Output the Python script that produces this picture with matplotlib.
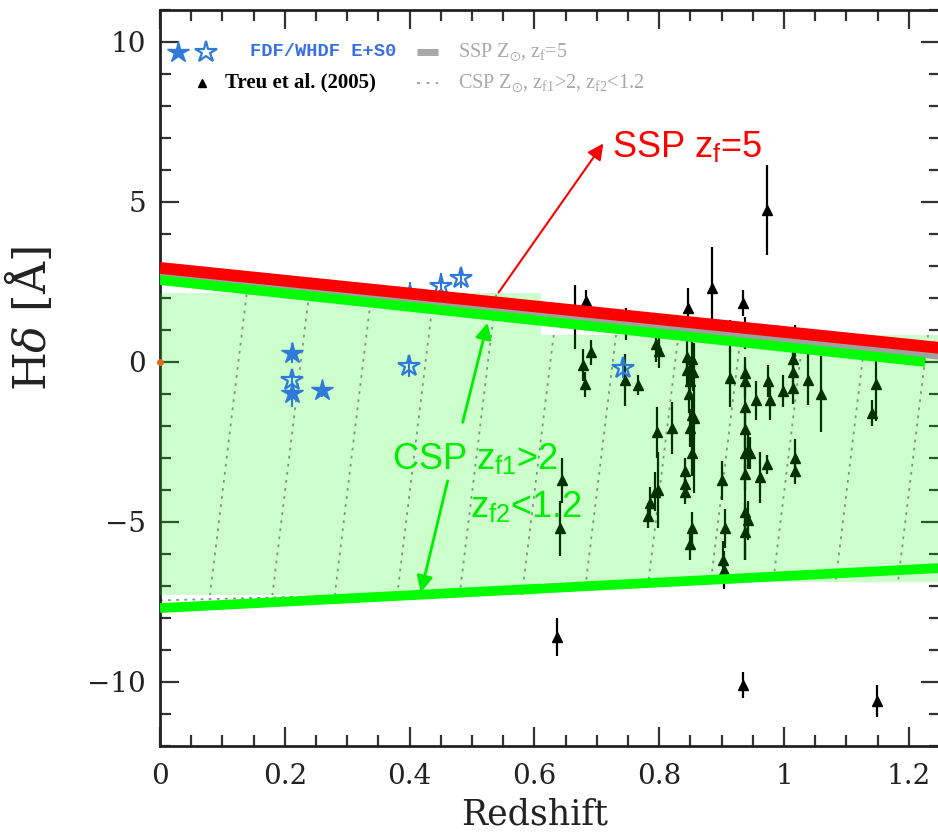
import matplotlib
matplotlib.use('Agg')
import matplotlib.pyplot as plt
from matplotlib.patches import Rectangle
from matplotlib.ticker import MultipleLocator, FuncFormatter

plt.rcParams['font.family'] = 'DejaVu Serif'
plt.rcParams['mathtext.fontset'] = 'dejavuserif'

# FDF/WHDF E+S0 galaxies
fdf_filled_z = [0.212, 0.212, 0.260]
fdf_filled_hd = [0.28, -0.97, -0.88]
fdf_filled_err = [0.30, 0.45, 0.20]
fdf_open_z = [0.212, 0.399, 0.400, 0.450, 0.483, 0.742]
fdf_open_hd = [-0.56, -0.12, 2.05, 2.37, 2.62, -0.20]
fdf_open_err = [0.35, 0.35, 0.45, 0.40, 0.30, 0.30]

# Treu et al. (2005) field early types
treu_z = [0.665, 0.683, 0.678, 0.691, 0.681, 0.644, 0.641, 0.637,
          0.747, 0.745, 0.766, 0.795, 0.800, 0.796, 0.820, 0.782,
          0.785, 0.793, 0.798, 0.846, 0.844, 0.852, 0.844, 0.854,
          0.849, 0.848, 0.852, 0.849, 0.852, 0.841, 0.841, 0.841,
          0.852, 0.849, 0.856, 0.885, 0.913, 0.913, 0.900, 0.905,
          0.902, 0.904, 0.934, 0.938, 0.937, 0.937, 0.937, 0.937,
          0.942, 0.937, 0.946, 0.937, 0.937, 0.942, 0.937, 0.935,
          0.972, 0.955, 0.975, 0.978, 0.962, 0.972, 0.998, 1.017,
          1.015, 1.015, 1.014, 1.039, 1.060, 1.017, 1.017, 1.147,
          1.141, 1.149]
treu_hd = [1.40, 1.90, -0.10, 0.30, -0.70, -3.70, -5.20, -8.60,
           1.20, -0.56, -0.72, 0.55, 0.35, -2.20, -2.06, -4.80,
           -4.40, -4.05, -4.00, 1.70, 0.15, 0.10, -0.25, -0.30,
           -0.60, -1.00, -1.65, -2.06, -2.85, -3.40, -3.80, -4.05,
           -5.20, -5.70, -1.75, 2.30, 0.80, -0.50, -3.70, -5.20,
           -6.20, -6.50, 1.84, 0.90, -0.35, -0.60, -1.40, -2.10,
           -2.75, -2.85, -2.85, -3.50, -4.70, -4.95, -5.30, -10.10,
           4.75, -1.20, -0.60, -1.20, -3.60, -3.20, -0.90, 0.65,
           0.10, -0.30, -0.80, -0.55, -1.00, -3.00, -3.40, -0.70,
           -1.60, -10.60]
treu_err = [1.00, 0.35, 0.50, 0.40, 0.40, 0.70, 0.85, 0.60,
            0.50, 0.80, 0.30, 0.55, 0.55, 0.80, 0.80, 0.40,
            0.50, 0.60, 1.20, 0.60, 0.50, 0.60, 0.50, 0.60,
            0.50, 0.60, 0.60, 0.60, 0.70, 0.40, 0.40, 0.40,
            0.50, 0.50, 2.35, 1.30, 0.50, 0.90, 0.60, 0.60,
            0.60, 0.60, 0.40, 0.50, 0.50, 0.50, 0.60, 0.60,
            0.60, 0.50, 0.50, 0.50, 1.50, 0.60, 0.90, 0.40,
            1.40, 0.60, 0.50, 0.60, 0.80, 0.30, 0.50, 0.50,
            0.60, 0.60, 0.50, 0.80, 1.20, 0.60, 0.40, 1.15,
            0.40, 0.50]

# model lines (end points in redshift / Hdelta)
ssp_red_z, ssp_red_hd = [0.0, 1.25], [2.94, 0.44]
ssp_model_z, ssp_model_hd = [0.0, 1.25], [2.75, 0.18]
csp_top_z, csp_top_hd = [0.0, 1.226], [2.56, 0.0]
csp_bot_z, csp_bot_hd = [0.0, 1.25], [-7.69, -6.44]
csp_floor_z, csp_floor_hd = [0.0, 0.45], [-7.45, -7.22]

# CSP envelope in two redshift bins
band_z_lo = [0.0, 0.61]
band_z_hi = [0.61, 1.25]
band_hd_lo = [-7.28, -6.88]
band_hd_hi = [2.15, 0.84]

# dotted CSP tracks (redshift at the bottom and top of the envelope)
track_hd = [-7.3, 2.15]
track_z_bot = [0.08, 0.18, 0.28, 0.38, 0.48, 0.58, 0.68, 0.78, 0.88, 0.98, 1.08, 1.18]
track_z_top = [0.139, 0.239, 0.339, 0.439, 0.539, 0.639, 0.739, 0.839, 0.939, 1.039, 1.139, 1.239]

origin_z, origin_hd = [0.0], [0.0]

star_blue = '#2f7ad8'
grey = '#a8a8a8'

fig = plt.figure(figsize=(9.38, 8.36), dpi=100)
ax = fig.add_axes([160 / 938, 90 / 836, 780 / 938, 736 / 836])

# envelope + tracks
rects = []
for z0, z1, lo, hi in zip(band_z_lo, band_z_hi, band_hd_lo, band_hd_hi):
    r = Rectangle((z0, lo), z1 - z0, hi - lo, facecolor='#00ff00', alpha=0.2,
                  edgecolor='none', zorder=3)
    ax.add_patch(r)
    rects.append(r)

for zb, zt in zip(track_z_bot, track_z_top):
    for r in rects:
        ln, = ax.plot([zb, zt], track_hd, ls=(0, (1.5, 3)), color='#8a8a8a', lw=1.3, zorder=1)
        ln.set_clip_path(r)

ax.plot(csp_floor_z, csp_floor_hd, ls=(0, (1.5, 3)), color='#8a8a8a', lw=1.3, zorder=1)

# data
ax.errorbar(treu_z, treu_hd, yerr=treu_err, fmt='^', color='black', ms=7,
            elinewidth=1.6, capsize=0, zorder=2)
ax.errorbar(fdf_filled_z, fdf_filled_hd, yerr=fdf_filled_err, fmt='*', color=star_blue,
            ms=16, elinewidth=1.5, capsize=0, zorder=4)
ax.errorbar(fdf_open_z, fdf_open_hd, yerr=fdf_open_err, fmt='*', color=star_blue,
            mfc='none', mew=1.6, ms=16, elinewidth=1.5, capsize=0, zorder=4)
ax.plot(origin_z, origin_hd, 'o', color='#e06a20', ms=4, clip_on=False, zorder=4)

# model lines
ax.plot(ssp_model_z, ssp_model_hd, color='#a0a0a0', lw=5, solid_capstyle='butt', zorder=4.5)
ax.plot(csp_top_z, csp_top_hd, color='#00ff00', lw=7, solid_capstyle='butt', zorder=5)
ax.plot(csp_bot_z, csp_bot_hd, color='#00ff00', lw=7, solid_capstyle='butt', zorder=5)
ax.plot(ssp_red_z, ssp_red_hd, color='#ff0000', lw=8.5, solid_capstyle='butt', zorder=5)

# annotations
ax.annotate('', xy=(0.713, 6.9), xytext=(0.54, 2.1),
            arrowprops=dict(arrowstyle='-|>', color='#ff0000', lw=1.5, mutation_scale=24),
            zorder=6)
ax.text(0.724, 6.4, r'SSP z$_\mathregular{f}$=5', color='#ff0000', fontsize=26,
        family='Liberation Sans', va='baseline', ha='left', zorder=6)
ax.annotate('', xy=(0.526, 1.31), xytext=(0.484, -1.97),
            arrowprops=dict(arrowstyle='-|>', color='#00ee00', lw=2, mutation_scale=24),
            zorder=6)
ax.annotate('', xy=(0.417, -7.28), xytext=(0.462, -3.63),
            arrowprops=dict(arrowstyle='-|>', color='#00ee00', lw=2, mutation_scale=24),
            zorder=6)
ax.text(0.372, -3.375, r'CSP z$_\mathregular{f1}$>2', color='#00ee00', fontsize=26,
        family='Liberation Sans', va='baseline', ha='left', zorder=6)
ax.text(0.497, -4.875, r'z$_\mathregular{f2}$<1.2', color='#00ee00', fontsize=26,
        family='Liberation Sans', va='baseline', ha='left', zorder=6)

# key
tr = ax.transAxes
ax.plot([0.023], [0.943], marker='*', color=star_blue, ms=16, transform=tr, zorder=7)
ax.plot([0.059], [0.943], marker='*', color=star_blue, mfc='none', mew=1.6, ms=16,
        transform=tr, zorder=7)
ax.text(0.115, 0.943, 'FDF/WHDF E+S0', color='#3a70e6', fontsize=13.5,
        family='Liberation Mono', weight='bold', va='center', transform=tr)
ax.plot([0.054], [0.901], marker='^', color='black', ms=6, transform=tr)
ax.text(0.083, 0.901, 'Treu et al. (2005)', color='black', fontsize=15,
        family='Liberation Serif', weight='bold', va='center', transform=tr)
ax.plot([0.329, 0.357], [0.943, 0.943], color=grey, lw=5, solid_capstyle='butt', transform=tr)
ax.text(0.382, 0.943, r'SSP Z$_\mathregular{\odot}$, z$_\mathregular{f}$=5', color=grey,
        fontsize=14.5, family='Liberation Serif', va='center', transform=tr)
ax.plot([0.329, 0.357], [0.901, 0.901], color=grey, lw=1.5, ls=(0, (1.5, 3)), transform=tr)
ax.text(0.382, 0.901,
        r'CSP Z$_\mathregular{\odot}$, z$_\mathregular{f1}$>2, z$_\mathregular{f2}$<1.2',
        color=grey, fontsize=14.5, family='Liberation Serif', va='center', transform=tr)

# axes
ax.set_xlim(0, 1.25)
ax.set_ylim(-12, 11)
ax.xaxis.set_major_locator(MultipleLocator(0.2))
ax.xaxis.set_minor_locator(MultipleLocator(0.05))
ax.yaxis.set_major_locator(MultipleLocator(5))
ax.yaxis.set_minor_locator(MultipleLocator(1))
ax.xaxis.set_major_formatter(FuncFormatter(lambda v, p: f'{v:g}'))
ax.tick_params(which='both', direction='in', top=True, right=True, colors='#333333',
               labelcolor='#222222', labelsize=20)
ax.tick_params(which='major', length=14, width=1.6)
ax.tick_params(which='minor', length=8, width=1.6)
ax.tick_params(axis='x', pad=12)
ax.tick_params(axis='y', pad=10)
for s in ax.spines.values():
    s.set_linewidth(2)
    s.set_color('#222222')

ax.set_xlabel('Redshift', fontsize=25, color='#222222')
ax.set_ylabel(r'H$\delta$ [Å]', fontsize=32, color='#222222')
ax.xaxis.set_label_coords(0.48, -0.07)
ax.yaxis.set_label_coords(-0.135, 0.58)

fig.savefig('out.png', dpi=100)
